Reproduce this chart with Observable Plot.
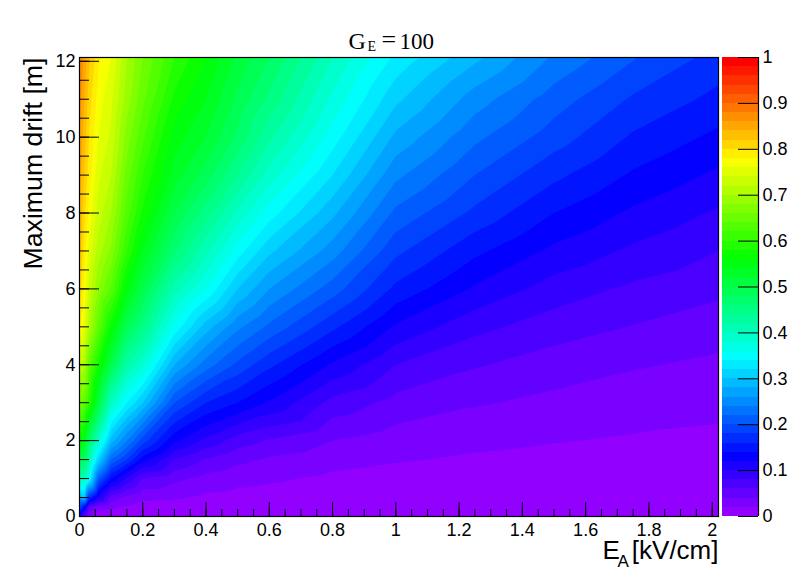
<!DOCTYPE html>
<html>
<head>
<meta charset="utf-8">
<script src="https://cdn.jsdelivr.net/npm/d3@7"></script>
<script src="https://cdn.jsdelivr.net/npm/@observablehq/plot@0.6"></script>
<style>
html,body{margin:0;padding:0;background:#fff}
#wrap{position:relative;width:798px;height:574px}
#wrap svg{position:absolute;left:0;top:0;background:transparent}
</style>
</head>
<body>
<div id="wrap"></div>
<script>
// Grid
const fieldE = [0,0.015,0.03,0.06,0.1,0.15,0.2,0.3,0.4,0.5,0.6,0.8,1,1.25,1.5,1.75,2.02];
const driftM = [0,0.25,0.5,1,1.5,2,3,4,5,6,7,8,9,10,11,12.1];
const atE000 = [.12,.20,.28,.40,.48,.56,.66,.72,.78,.81,.83,.84,.85,.86,.87,.88];
const atE015 = [.05,.14,.30,.41,.49,.55,.64,.71,.76,.775,.79,.805,.82,.83,.84,.855];
const atE030 = [.02,.06,.17,.355,.42,.47,.60,.64,.71,.735,.755,.775,.79,.80,.81,.825];
const atE060 = [.005,.03,.11,.21,.31,.39,.51,.575,.64,.68,.71,.73,.745,.76,.77,.785];
const atE100 = [.003,.024,.05,.14,.22,.29,.40,.50,.565,.635,.675,.70,.72,.735,.745,.76];
const atE150 = [.002,.018,.033,.095,.18,.24,.34,.42,.49,.55,.60,.63,.65,.67,.69,.70];
const atE200 = [.001,.012,.025,.06,.13,.19,.30,.385,.45,.50,.54,.575,.60,.625,.645,.66];
const atE300 = [.001,.008,.023,.045,.08,.125,.20,.28,.355,.41,.465,.50,.53,.55,.575,.60];
const atE400 = [0,.005,.016,.033,.058,.095,.16,.23,.29,.36,.405,.45,.49,.52,.54,.56];
const atE500 = [0,.004,.013,.027,.045,.07,.14,.195,.245,.30,.35,.395,.44,.475,.495,.515];
const atE600 = [0,.003,.011,.023,.037,.058,.118,.165,.215,.26,.305,.35,.39,.425,.455,.48];
const atE800 = [0,.002,.008,.016,.027,.04,.073,.117,.165,.21,.25,.285,.32,.35,.375,.40];
const atE1000 = [0,.001,.005,.011,.022,.03,.053,.08,.117,.155,.185,.215,.245,.275,.305,.335];
const atE1250 = [0,.001,.004,.009,.017,.025,.042,.062,.086,.117,.145,.175,.20,.225,.25,.285];
const atE1500 = [0,.001,.003,.008,.014,.021,.035,.05,.07,.091,.115,.14,.165,.19,.21,.237];
const atE1750 = [0,.001,.003,.007,.011,.018,.029,.042,.059,.076,.096,.116,.137,.157,.177,.202];
const atE2020 = [0,.001,.002,.005,.009,.016,.025,.036,.049,.065,.08,.097,.116,.135,.154,.172];
const columns = [atE000,atE015,atE030,atE060,atE100,atE150,atE200,atE300,atE400,atE500,atE600,atE800,atE1000,atE1250,atE1500,atE1750,atE2020];

const palette = ["#9200ff","#7a00ff","#6300ff","#4b00ff","#3300ff","#1b00ff","#0300ff","#0014ff","#002cff","#0044ff",
"#005cff","#0074ff","#008bff","#00a3ff","#00bbff","#00d3ff","#00ebff","#00fffc","#00ffe4","#00ffcc",
"#00ffb4","#00ff9c","#00ff85","#00ff6d","#00ff55","#00ff3d","#00ff25","#00ff0e","#0aff00","#22ff00",
"#3aff00","#52ff00","#69ff00","#81ff00","#99ff00","#b1ff00","#c9ff00","#e0ff00","#f8ff00","#ffee00",
"#ffd600","#ffbe00","#ffa700","#ff8f00","#ff7700","#ff5f00","#ff4700","#ff3000","#ff1800","#ff0000"];
const levels = palette.map((_, i) => i / 50);

const xMajor = [0,0.2,0.4,0.6,0.8,1,1.2,1.4,1.6,1.8,2];
const xMinor = d3.range(0,41).map(i => i*0.05).filter(v => v <= 2.02);
const yMajor = [0,2,4,6,8,10,12];
const yMinor = [0,0.5,1,1.5,2,2.5,3,3.5,4,4.5,5,5.5,6,6.5,7,7.5,8,8.5,9,9.5,10,10.5,11,11.5,12];
const barTicks = [0,0.1,0.2,0.3,0.4,0.5,0.6,0.7,0.8,0.9,1];

const grid = columns.flatMap((col, i) => col.map((v, j) => ({E: fieldE[i], d: driftM[j], v})));

const W = 798, H = 574, mL = 79, mR = 80, mT = 57, mB = 58;
const fw = W - mL - mR, fh = H - mT - mB;
const sans = "'Liberation Sans', Arial, sans-serif", serif = "'Liberation Serif', 'Times New Roman', serif";
const plain = d => String(d);

const main = Plot.plot({
  width: W, height: H, marginLeft: mL, marginRight: mR, marginTop: mT, marginBottom: mB,
  style: {background: "transparent"},
  x: {domain: [0, 2.02]},
  y: {domain: [0, 12.1]},
  color: {type: "threshold", domain: levels.slice(1), range: palette},
  marks: [
    Plot.frame({fill: palette[0], stroke: null}),
    Plot.contour(grid, {x: "E", y: "d", fill: "v", interpolate: "barycentric", thresholds: levels, pixelSize: 1, smooth: true, stroke: null}),
    Plot.tickX(xMinor, {x: d => d, insetTop: fh - 7, stroke: "#000"}),
    Plot.tickX(xMajor, {x: d => d, insetTop: fh - 14, stroke: "#000"}),
    Plot.tickY(yMinor, {y: d => d, insetRight: fw - 10, stroke: "#000"}),
    Plot.tickY(yMajor, {y: d => d, insetRight: fw - 20, stroke: "#000"}),
    Plot.frame({stroke: "#000", strokeWidth: 1.2}),
    Plot.axisX({ticks: xMajor, tickFormat: plain, tickSize: 0, tickPadding: 7, label: null, fontSize: 18, fontFamily: sans, fill: "#000"}),
    Plot.axisY({ticks: yMajor, tickFormat: plain, tickSize: 0, tickPadding: 4, label: null, fontSize: 18, fontFamily: sans, fill: "#000"}),
    Plot.text(["Maximum drift [m]"], {text: d => d, frameAnchor: "top-left", dx: -38, dy: 0, rotate: -90, textAnchor: "end", lineAnchor: "bottom", fontSize: 26.7, fontFamily: sans, fill: "#000"}),
    Plot.text(["E"], {text: d => d, frameAnchor: "bottom-left", dx: 523, dy: 42, textAnchor: "start", lineAnchor: "bottom", fontSize: 26, fontFamily: sans, fill: "#000"}),
    Plot.text(["A"], {text: d => d, frameAnchor: "bottom-left", dx: 538, dy: 50, textAnchor: "start", lineAnchor: "bottom", fontSize: 17, fontFamily: sans, fill: "#000"}),
    Plot.text(["[kV/cm]"], {text: d => d, frameAnchor: "bottom-right", dx: 0, dy: 42, textAnchor: "end", lineAnchor: "bottom", fontSize: 26, fontFamily: sans, fill: "#000"}),
    Plot.text(["G"], {text: d => d, frameAnchor: "top-left", dx: 269, dy: -9, textAnchor: "start", lineAnchor: "bottom", fontSize: 24, fontFamily: serif, fill: "#000"}),
    Plot.text(["E"], {text: d => d, frameAnchor: "top-left", dx: 288, dy: -7, textAnchor: "start", lineAnchor: "bottom", fontSize: 14, fontFamily: serif, fill: "#000"}),
    Plot.text(["="], {text: d => d, frameAnchor: "top-left", dx: 302, dy: -10, textAnchor: "start", lineAnchor: "bottom", fontSize: 26, fontFamily: serif, fill: "#000"}),
    Plot.text(["100"], {text: d => d, frameAnchor: "top-left", dx: 320, dy: -9, textAnchor: "start", lineAnchor: "bottom", fontSize: 23, fontFamily: serif, fill: "#000"})
  ]
});

const bar = Plot.plot({
  width: W, height: H, marginLeft: 722, marginRight: 40, marginTop: mT, marginBottom: mB,
  style: {background: "transparent"},
  x: {domain: [0, 1], axis: null},
  y: {domain: [0, 1], axis: null},
  color: {type: "threshold", domain: levels.slice(1), range: palette},
  marks: [
    Plot.rect(levels, {x1: 0, x2: 1, y1: d => d, y2: d => d + 0.02, fill: d => d, inset: 0, shapeRendering: "crispEdges"}),
    Plot.ruleX([1], {stroke: "#000", strokeWidth: 1.2}),
    Plot.tickY(barTicks, {y: d => d, insetLeft: 16, stroke: "#000"}),
    Plot.axisY({anchor: "right", ticks: barTicks, tickFormat: plain, tickSize: 0, tickPadding: 4, label: null, fontSize: 18, fontFamily: sans, fill: "#000"})
  ]
});

document.getElementById("wrap").append(main, bar);
</script>
</body>
</html>
